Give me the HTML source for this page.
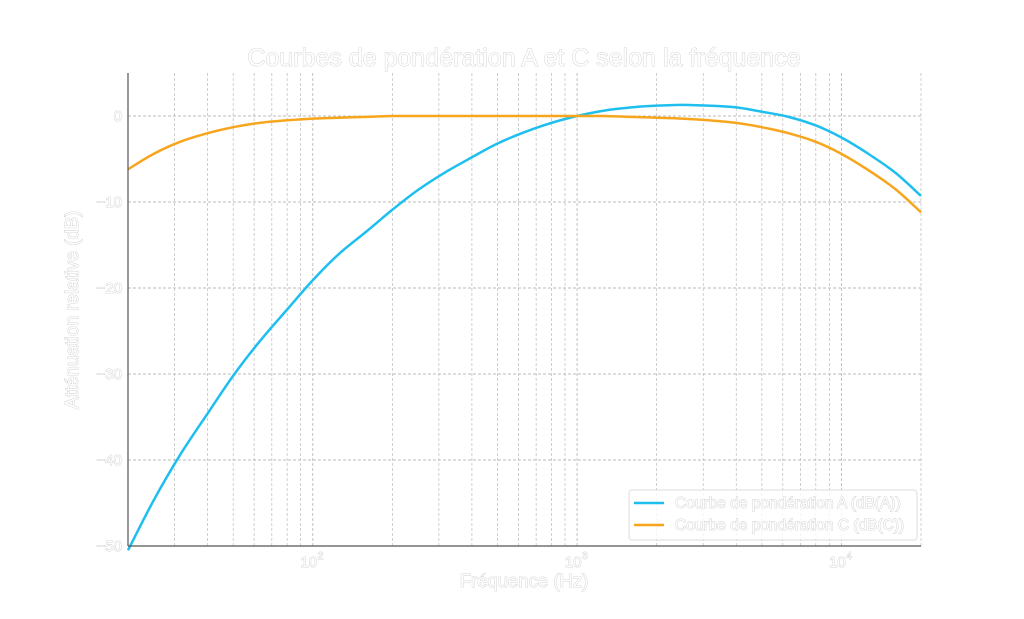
<!DOCTYPE html>
<html><head><meta charset="utf-8"><style>
html,body{margin:0;padding:0;background:#fff;}
svg text{font-family:"Liberation Sans",sans-serif;fill:#fff;stroke:#c8c8c8;stroke-width:0.8px;paint-order:stroke fill;}
</style></head><body>
<svg id="chart" width="1024" height="614" xmlns="http://www.w3.org/2000/svg">
<g id="grid"></g>
<g id="curves"></g>
<line x1="128" y1="73" x2="128" y2="546" stroke="#555" stroke-width="1.2"/>
<line x1="128" y1="546" x2="921" y2="546" stroke="#555" stroke-width="1.2"/>
<g id="ticks"></g>
<text x="524" y="66" text-anchor="middle" font-size="25">Courbes de pondération A et C selon la fréquence</text>
<text x="524" y="587" text-anchor="middle" font-size="18.5">Fréquence (Hz)</text>
<text transform="translate(78,310) rotate(-90)" text-anchor="middle" font-size="18.5">Atténuation relative (dB)</text>
<g>
<rect x="629" y="490" width="288" height="50" rx="3" fill="#fff" fill-opacity="0.8" stroke="#ddd"/>
<line x1="634" y1="503" x2="664" y2="503" stroke="#1ebfef" stroke-width="2.5"/>
<text x="675" y="508" font-size="15.5">Courbe de pondération A (dB(A))</text>
<line x1="634" y1="525" x2="664" y2="525" stroke="#f8a51e" stroke-width="2.5"/>
<text x="675" y="530" font-size="15.5">Courbe de pondération C (dB(C))</text>
</g>
</svg>
<script>
const freqs=[20,25,31.5,40,50,63,80,100,125,160,200,250,315,400,500,630,800,1000,1250,1600,2000,2500,3150,4000,5000,6300,8000,10000,12500,16000,20000];
const aWeight=[-50.5,-44.7,-39.4,-34.6,-30.2,-26.2,-22.5,-19.1,-16.1,-13.4,-10.9,-8.6,-6.6,-4.8,-3.2,-1.9,-0.8,0,0.6,1.0,1.2,1.3,1.2,1.0,0.5,-0.1,-1.1,-2.5,-4.3,-6.6,-9.3];
const cWeight=[-6.2,-4.4,-3.0,-2.0,-1.3,-0.8,-0.5,-0.3,-0.2,-0.1,0,0,0,0,0,0,0,0,0,-0.1,-0.2,-0.3,-0.5,-0.8,-1.3,-2.0,-3.0,-4.4,-6.2,-8.5,-11.2];
const yTicks=[0,-10,-20,-30,-40,-50];
const yTickLabels=["0","−10","−20","−30","−40","−50"];
const xMajor=[100,1000,10000];
const xMajorLabels=["2","3","4"];
const NS="http://www.w3.org/2000/svg";
const X0=128,X1=921,Y0=546,YT=73;
const lmin=Math.log10(20),lmax=Math.log10(20000);
function xs(f){return X0+(Math.log10(f)-lmin)/(lmax-lmin)*(X1-X0);}
function ys(v){return 116+(0-v)*8.6;}
function mk(tag,attrs,parent){const e=document.createElementNS(NS,tag);for(const k in attrs)e.setAttribute(k,attrs[k]);parent.appendChild(e);return e;}
const grid=document.getElementById('grid'),ticks=document.getElementById('ticks'),curves=document.getElementById('curves');
for(let d=1;d<=4;d++){for(let m=1;m<=9;m++){const f=m*Math.pow(10,d);const x=xs(f);if(x<X0+1||x>X1)continue;
const l=mk('line',{x1:x,y1:YT,x2:x,y2:Y0,stroke:'#bbb','stroke-width':m===1?0.9:0.7,'stroke-dasharray':'3,2'},grid);

}}
yTicks.forEach((v,i)=>{const y=ys(v);
const l=mk('line',{x1:X0,y1:y,x2:X1,y2:y,stroke:'#bbb','stroke-width':0.9,'stroke-dasharray':'3,2'},grid);


const t=mk('text',{x:X0-6,y:y+5,'text-anchor':'end','font-size':15},ticks);t.textContent=yTickLabels[i];

});
xMajor.forEach((f,i)=>{const x=xs(f);
const t=mk('text',{x:x-4,y:567,'text-anchor':'middle','font-size':15},ticks);t.textContent='10';


const s=mk('text',{x:x+5,y:559,'font-size':10},ticks);s.textContent=xMajorLabels[i];

});
function path(vals){const p=freqs.map((f,i)=>[xs(f),ys(vals[i])]);let d='M'+p[0][0]+','+p[0][1];
for(let i=0;i<p.length-1;i++){const p0=p[Math.max(0,i-1)],p1=p[i],p2=p[i+1],p3=p[Math.min(p.length-1,i+2)];
d+=' C'+(p1[0]+(p2[0]-p0[0])/6)+','+(p1[1]+(p2[1]-p0[1])/6)+' '+(p2[0]-(p3[0]-p1[0])/6)+','+(p2[1]-(p3[1]-p1[1])/6)+' '+p2[0]+','+p2[1];}return d;}
const a=mk('path',{d:path(aWeight),fill:'none',stroke:'#1ebfef','stroke-width':2.5},curves);


const c=mk('path',{d:path(cWeight),fill:'none',stroke:'#f8a51e','stroke-width':2.5},curves);


</script>
</body></html>
